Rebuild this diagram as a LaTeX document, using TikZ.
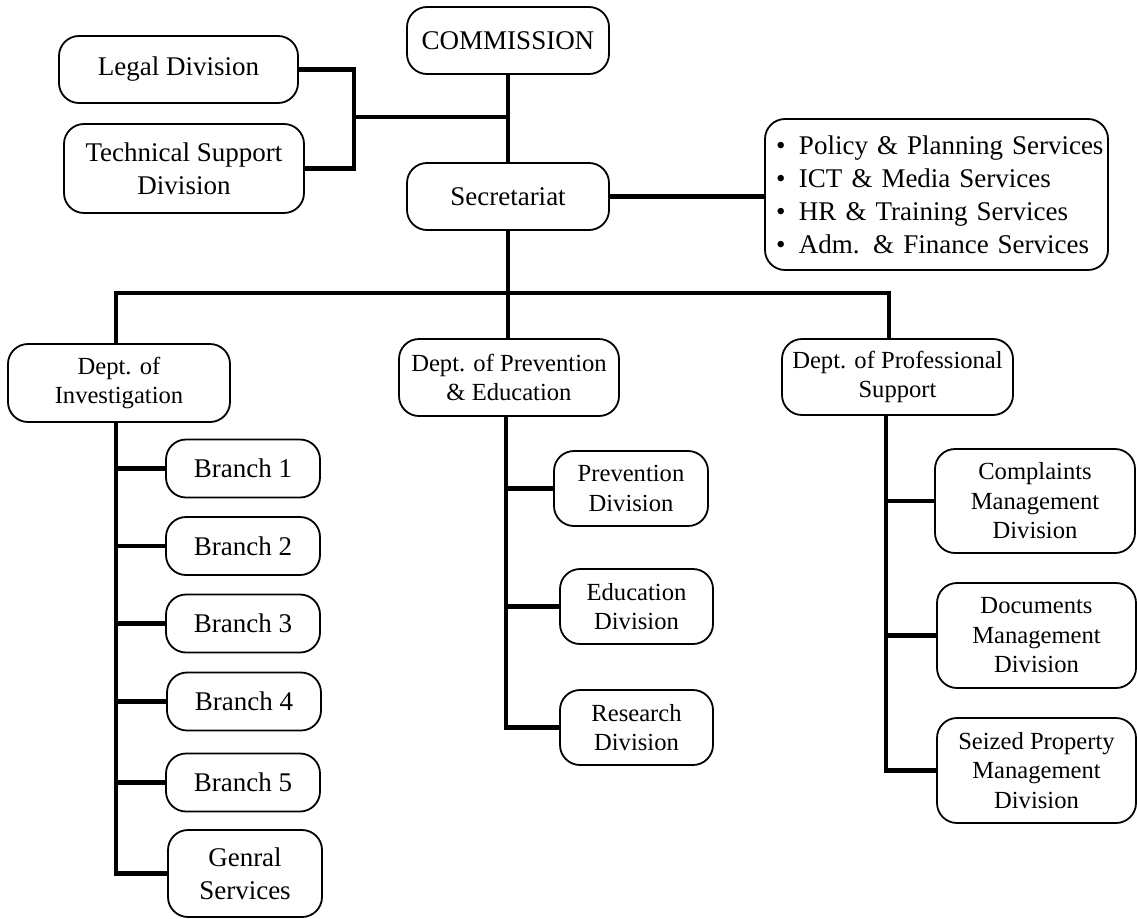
\documentclass[tikz,border=0pt]{standalone}
\usepackage{fontspec}
\setmainfont{Liberation Serif}
\begin{document}
\begin{tikzpicture}[x=1pt,y=-1pt,
  box/.style={draw, line width=1.8pt, rounded corners=20pt, align=center, inner sep=0pt},
  big/.style={font=\fontsize{27}{33}\selectfont},
  small/.style={font=\fontsize{24.6}{29.5}\selectfont},
  conn/.style={line width=4.8pt}]
\useasboundingbox (0,0) rectangle (1137,918);

% top level
\node[box,big,minimum width=202pt,minimum height=67pt] (comm) at (508,40.5) {COMMISSION};
\node[box,big,minimum width=239pt,minimum height=67pt] (legal) at (178.5,69.5) {Legal Division};
\node[box,big,minimum width=240pt,minimum height=89pt] (tech) at (184,168.5) {Technical Support\\Division};
\node[box,big,minimum width=202pt,minimum height=67pt] (sec) at (508,196.5) {Secretariat};
\node[box,big,align=left,text width=335pt,inner xsep=4pt,minimum height=151pt] (list) at (936.5,194.5)
  {\hspace*{7pt}\makebox[23pt][l]{•}Policy \& Planning Services\\
   \hspace*{7pt}\makebox[23pt][l]{•}ICT \& Media Services\\
   \hspace*{7pt}\makebox[23pt][l]{•}HR \& Training Services\\
   \hspace*{7pt}\makebox[23pt][l]{•}Adm. \& Finance Services};

% departments
\node[box,small,minimum width=222pt,minimum height=78pt] (dinv) at (119,383) {Dept. of\\Investigation};
\node[box,small,minimum width=220pt,minimum height=77pt] (dprev) at (509,377.5) {Dept. of Prevention\\\& Education};
\node[box,small,minimum width=231pt,minimum height=76pt] (dprof) at (897.5,377) {Dept. of Professional\\Support};

% investigation branches
\node[box,big,minimum width=154pt,minimum height=58pt] (b1) at (243,468.5) {Branch 1};
\node[box,big,minimum width=154pt,minimum height=58pt] (b2) at (243,546) {Branch 2};
\node[box,big,minimum width=154pt,minimum height=58pt] (b3) at (243,623.5) {Branch 3};
\node[box,big,minimum width=154pt,minimum height=58pt] (b4) at (244,701.5) {Branch 4};
\node[box,big,minimum width=154pt,minimum height=58pt] (b5) at (243,782.5) {Branch 5};
\node[box,big,minimum width=154pt,minimum height=87pt] (gen) at (245,873.5) {Genral\\Services};

% prevention divisions
\node[box,small,minimum width=154pt,minimum height=75pt] (pdiv) at (631,488.5) {Prevention\\Division};
\node[box,small,minimum width=153pt,minimum height=75pt] (ediv) at (636.5,606.5) {Education\\Division};
\node[box,small,minimum width=153pt,minimum height=75pt] (rdiv) at (636.5,727.5) {Research\\Division};

% professional support divisions
\node[box,small,minimum width=200pt,minimum height=104pt] (cdiv) at (1035,501) {Complaints\\Management\\Division};
\node[box,small,minimum width=199pt,minimum height=105pt] (ddiv) at (1036.5,635.5) {Documents\\Management\\Division};
\node[box,small,minimum width=199pt,minimum height=105pt] (sdiv) at (1036.5,770.5) {Seized Property\\Management\\Division};

% connectors: top
\coordinate (lj) at (354,117);
\draw[conn] (comm.south) -- (sec.north);
\draw[conn] (legal.east) -| (tech.east -| lj) -- (tech.east);
\draw[conn] (lj) -- (lj -| comm.south);
\draw[conn] (sec.east) -- (sec.east -| list.west);

% connectors: main bar
\coordinate (lbar) at (116,293);
\coordinate (rbar) at (889,293);
\draw[conn] (sec.south) -- (sec.south |- lbar) -- (sec.south |- dprev.north);
\draw[conn] (lbar |- dinv.north) -- (lbar) -- (rbar) -- (rbar |- dprof.north);

% investigation spine
\coordinate (isp) at (116,0);
\draw[conn] (isp |- dinv.south) -- (isp |- gen.west) -- (gen.west);
\foreach \n in {b1,b2,b3,b4,b5} \draw[conn] (isp |- \n.west) -- (\n.west);

% prevention spine
\coordinate (psp) at (506,0);
\draw[conn] (psp |- dprev.south) -- (psp |- rdiv.west) -- (rdiv.west);
\foreach \n in {pdiv,ediv} \draw[conn] (psp |- \n.west) -- (\n.west);

% professional spine
\coordinate (ssp) at (886,0);
\draw[conn] (ssp |- dprof.south) -- (ssp |- sdiv.west) -- (sdiv.west);
\foreach \n in {cdiv,ddiv} \draw[conn] (ssp |- \n.west) -- (\n.west);
\end{tikzpicture}
\end{document}
